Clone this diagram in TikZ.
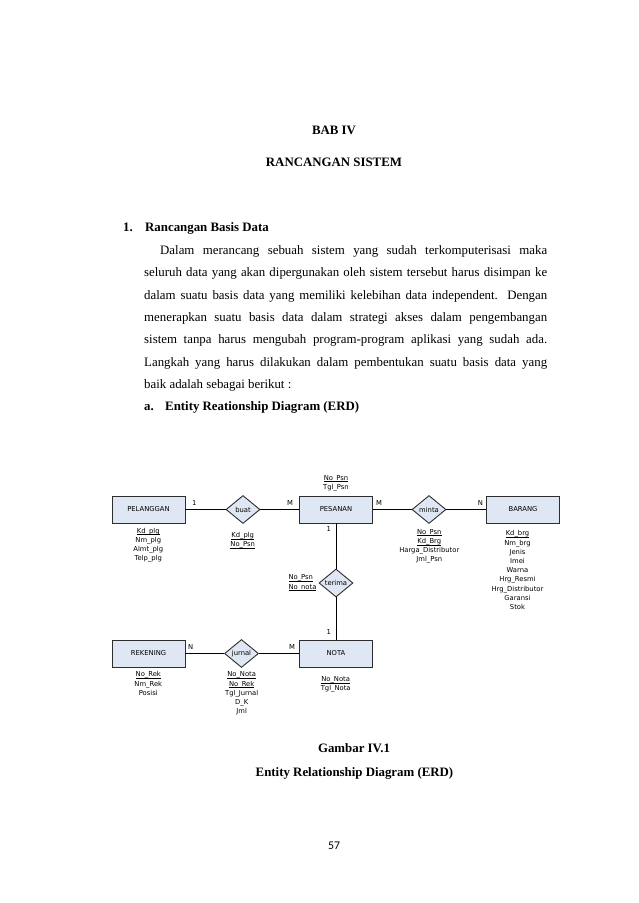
\documentclass[tikz,border=0pt]{standalone}
\usepackage{fontspec}
\setmainfont{Liberation Serif}
\newfontfamily\erdfont{DejaVu Sans}
\newfontfamily\pagefont{Carlito}
\usetikzlibrary{shapes.geometric}
\definecolor{boxfill}{RGB}{222,231,243}
\definecolor{boxline}{RGB}{45,45,45}
\newcommand\erdul[1]{\setbox0\hbox{#1}\rlap{\rule[-1.6pt]{\wd0}{0.5pt}}\box0}
\begin{document}
\begin{tikzpicture}[x=1pt,y=-1pt,
  body/.style={inner sep=0pt, anchor=base west, font=\fontsize{12.86}{15}\selectfont},
  bodyc/.style={inner sep=0pt, anchor=base, font=\fontsize{12.86}{15}\selectfont\bfseries},
  bodyb/.style={inner sep=0pt, anchor=base west, font=\fontsize{12.86}{15}\selectfont\bfseries},
  entity/.style={draw=boxline, fill=boxfill, line width=0.9pt, minimum width=73pt, minimum height=27pt, inner sep=0pt, font=\erdfont\fontsize{6.8}{8}\selectfont},
  rel/.style={diamond, draw=boxline, fill=boxfill, line width=0.9pt, minimum width=34pt, minimum height=28pt, inner sep=0pt, font=\erdfont\fontsize{6.8}{8}\selectfont},
  attr/.style={inner sep=0pt, anchor=north, align=center, font=\erdfont\fontsize{6.8}{9.2}\selectfont},
  card/.style={inner sep=0pt, font=\erdfont\fontsize{6.8}{8}\selectfont},
  link/.style={line width=0.9pt, draw=black}]
\useasboundingbox (0,0) rectangle (638,903);
\fill[white] (0,0) rectangle (638,903);

% ---- headings and body text ----
\node[bodyc] (bab) at (334,134.5) {BAB IV};
\node[bodyc] (judul) at (334,166) {RANCANGAN SISTEM};
\node[bodyb] (n1) at (123,231.5) {1.};
\node[bodyb] (sub1) at (145,231.5) {Rancangan Basis Data};
\node[body] (l1) at (160,254.5) {\makebox[387pt][s]{Dalam merancang sebuah sistem yang sudah terkomputerisasi maka}};
\node[body] (l2) at (144,276.5) {\makebox[403pt][s]{seluruh data yang akan dipergunakan oleh sistem tersebut harus disimpan ke}};
\node[body] (l3) at (144,299) {\makebox[403pt][s]{dalam suatu basis data yang memiliki kelebihan data independent. Dengan}};
\node[body] (l4) at (144,321.5) {\makebox[403pt][s]{menerapkan suatu basis data dalam strategi akses dalam pengembangan}};
\node[body] (l5) at (144,343.5) {\makebox[403pt][s]{sistem tanpa harus mengubah program-program aplikasi yang sudah ada.}};
\node[body] (l6) at (144,366) {\makebox[403pt][s]{Langkah yang harus dilakukan dalam pembentukan suatu basis data yang}};
\node[body] (l7) at (144,388) {baik adalah sebagai berikut :};
\node[bodyb] (na) at (144,410.5) {a.};
\node[bodyb] (suba) at (165,410.5) {Entity Reationship Diagram (ERD)};

% ---- ERD ----
\node[entity] (plg) at (148.5,509.5) {PELANGGAN};
\node[entity] (psn) at (336,509.5) {PESANAN};
\node[entity] (brg) at (523,509.5) {BARANG};
\node[entity] (rek) at (148.5,653.5) {REKENING};
\node[entity] (nota) at (336,653.5) {NOTA};

\node[rel] (buat) at (243,509.5) {buat};
\node[rel] (minta) at (429,509.5) {minta};
\node[rel] (terima) at (336,583) {terima};
\node[rel] (jurnal) at (241.5,653.5) {jurnal};

\draw[link] (plg.east) -- (buat.west);
\draw[link] (buat.east) -- (psn.west);
\draw[link] (psn.east) -- (minta.west);
\draw[link] (minta.east) -- (brg.west);
\draw[link] (psn.south) -- (terima.north);
\draw[link] (terima.south) -- (nota.north);
\draw[link] (rek.east) -- (jurnal.west);
\draw[link] (jurnal.east) -- (nota.west);

\node[card] (c1) at (194.3,502.7) {1};
\node[card] (c2) at (290,502.7) {M};
\node[card] (c3) at (379,502.7) {M};
\node[card] (c4) at (480.3,502.7) {N};
\node[card] (c5) at (328.7,529.3) {1};
\node[card] (c6) at (328.7,631.7) {1};
\node[card] (c7) at (190.7,646.7) {N};
\node[card] (c8) at (292,646.7) {M};

\node[attr] (aplg) at (148.3,526.7) {\strut\erdul{Kd\_plg}\\Nm\_plg\\Almt\_plg\\Telp\_plg};
\node[attr] (abuat) at (242.7,531) {\strut\erdul{Kd\_plg}\\\erdul{No\_Psn}};
\node[attr] (apsn) at (336,473.5) {\strut\erdul{No\_Psn}\\Tgl\_Psn};
\node[attr] (aminta) at (429.3,527.7) {\strut\erdul{No\_Psn}\\\erdul{Kd\_Brg}\\Harga\_Distributor\\Jml\_Psn};
\node[attr] (abrg) at (517.5,529.3) {\strut\erdul{Kd\_brg}\\Nm\_brg\\Jenis\\Imei\\Warna\\Hrg\_Resmi\\Hrg\_Distributor\\Garansi\\Stok};
\node[attr, anchor=north west, align=left] (aterima) at (288.3,573.3) {\strut\erdul{No\_Psn}\\\erdul{No\_nota}};
\node[attr] (arek) at (148.3,670.3) {\strut\erdul{No\_Rek}\\Nm\_Rek\\Posisi};
\node[attr] (ajurnal) at (241.7,670.3) {\strut\erdul{No\_Nota}\\\erdul{No\_Rek}\\Tgl\_Jurnal\\D\_K\\Jml};
\node[attr] (anota) at (335.7,675) {\strut\erdul{No\_Nota}\\Tgl\_Nota};

% ---- caption and page number ----
\node[bodyc] (cap1) at (354,752.5) {Gambar IV.1};
\node[bodyc] (cap2) at (354.5,776) {Entity Relationship Diagram (ERD)};
\node[inner sep=0pt, anchor=base, font=\pagefont\fontsize{11.8}{14}\selectfont] (pg) at (334,849) {57};
\end{tikzpicture}
\end{document}
